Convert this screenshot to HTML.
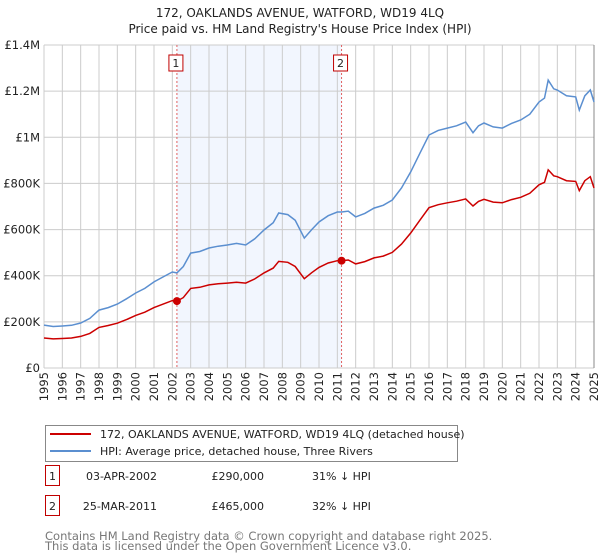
<!DOCTYPE html>
<html><head><meta charset="utf-8"><style>
body{margin:0;background:#fff;font-family:"DejaVu Sans","Liberation Sans",sans-serif;}
#wrap{position:relative;width:600px;height:560px;overflow:hidden}
</style></head><body>
<div id="wrap">
<svg id="chart" width="600" height="560" font-family="DejaVu Sans, Liberation Sans, sans-serif"></svg>
</div>
<script>
const yearTicks=[1995,1996,1997,1998,1999,2000,2001,2002,2003,2004,2005,2006,2007,2008,2009,2010,2011,2012,2013,2014,2015,2016,2017,2018,2019,2020,2021,2022,2023,2024,2025];
const yTickValues=[0,200000,400000,600000,800000,1000000,1200000,1400000];
const yTickLabels=["£0","£200K","£400K","£600K","£800K","£1M","£1.2M","£1.4M"];
const hpiYears=[1995,1995.5,1996,1996.5,1997,1997.5,1998,1998.5,1999,1999.5,2000,2000.5,2001,2001.5,2002,2002.25,2002.6,2003,2003.5,2004,2004.5,2005,2005.5,2006,2006.5,2007,2007.5,2007.8,2008.3,2008.7,2009.2,2009.6,2010,2010.5,2011,2011.23,2011.6,2012,2012.5,2013,2013.5,2014,2014.5,2015,2015.5,2016,2016.5,2017,2017.5,2018,2018.4,2018.7,2019,2019.5,2020,2020.5,2021,2021.5,2022,2022.3,2022.5,2022.8,2023,2023.5,2024,2024.2,2024.5,2024.8,2025];
const hpiValues=[186000,180000,182000,185000,195000,215000,251000,262000,277000,300000,325000,345000,373000,395000,416000,412000,440000,498000,505000,520000,528000,533000,540000,533000,560000,598000,630000,672000,665000,640000,563000,600000,633000,660000,676000,676000,680000,655000,670000,693000,705000,728000,780000,850000,930000,1010000,1030000,1040000,1050000,1066000,1020000,1050000,1062000,1045000,1040000,1060000,1075000,1100000,1153000,1170000,1248000,1210000,1205000,1180000,1175000,1118000,1180000,1205000,1153000];
const priceYears=[1995,1995.5,1996,1996.5,1997,1997.5,1998,1998.5,1999,1999.5,2000,2000.5,2001,2001.5,2002,2002.25,2002.6,2003,2003.5,2004,2004.5,2005,2005.5,2006,2006.5,2007,2007.5,2007.8,2008.3,2008.7,2009.2,2009.6,2010,2010.5,2011,2011.23,2011.6,2012,2012.5,2013,2013.5,2014,2014.5,2015,2015.5,2016,2016.5,2017,2017.5,2018,2018.4,2018.7,2019,2019.5,2020,2020.5,2021,2021.5,2022,2022.3,2022.5,2022.8,2023,2023.5,2024,2024.2,2024.5,2024.8,2025];
const priceValues=[130000,126000,128000,130000,137000,150000,176000,184000,194000,210000,228000,242000,262000,277000,292000,290000,305000,345000,350000,360000,365000,368000,372000,368000,386000,412000,433000,462000,458000,440000,387000,413000,436000,455000,465000,465000,468000,451000,461000,477000,485000,501000,537000,585000,640000,695000,708000,716000,723000,733000,702000,722000,731000,719000,716000,730000,740000,757000,794000,805000,859000,833000,829000,812000,809000,769000,812000,829000,780000];
const saleYears=[2002.25,2011.23];
const saleValues=[290000,465000];
const saleLabels=["1","2"];

const NS="http://www.w3.org/2000/svg";
const svg=document.getElementById('chart');
const L=44,R=594,T=45,B=368;
const x=v=>L+(v-1995)/(2025-1995)*(R-L);
const y=v=>B-v/1400000*(B-T);
function mk(tag,attrs,parent){const e=document.createElementNS(NS,tag);for(const k in attrs)e.setAttribute(k,attrs[k]);(parent||svg).appendChild(e);return e;}

let t=mk('text',{x:300,y:17,'text-anchor':'middle','font-size':12,fill:'#222'});t.textContent="172, OAKLANDS AVENUE, WATFORD, WD19 4LQ";


t=mk('text',{x:300,y:33,'text-anchor':'middle','font-size':12,fill:'#222'});t.textContent="Price paid vs. HM Land Registry's House Price Index (HPI)";



let sh=mk('rect',{x:x(saleYears[0]),y:T,width:x(saleYears[1])-x(saleYears[0]),height:B-T,fill:'#f2f6fe'});



yearTicks.forEach(yr=>{const g=mk('line',{x1:x(yr),x2:x(yr),y1:T,y2:B,stroke:'#cccccc','stroke-width':1});


const lb=mk('text',{transform:`translate(${x(yr)+4},${B+4}) rotate(-90)`,'text-anchor':'end','font-size':11.5,fill:'#222'});lb.textContent=yr;

});
yTickValues.forEach((v,i)=>{const g=mk('line',{x1:L,x2:R,y1:y(v),y2:y(v),stroke:'#cccccc','stroke-width':1});


const lb=mk('text',{x:L-4,y:y(v)+4,'text-anchor':'end','font-size':11.5,fill:'#222'});lb.textContent=yTickLabels[i];

});
let ax=mk('line',{x1:R,x2:R,y1:T,y2:B,stroke:'#888','stroke-width':1});



saleYears.forEach((s,i)=>{const l=mk('line',{x1:x(s),x2:x(s),y1:T,y2:B,stroke:'#e06060','stroke-width':1,'stroke-dasharray':'2,2'});


const bx=mk('rect',{x:x(s)-8,y:55,width:14,height:16,fill:'#fff',stroke:'#c00000','stroke-width':1});


const tx=mk('text',{x:x(s)-1,y:67,'text-anchor':'middle','font-size':11,fill:'#222'});tx.textContent=saleLabels[i];

});

function path(xs,vs){return xs.map((v,i)=>(i?'L':'M')+x(v).toFixed(1)+','+y(vs[i]).toFixed(1)).join(' ');}
let hp=mk('path',{d:path(hpiYears,hpiValues),fill:'none',stroke:'#5b8fd0','stroke-width':1.5});


let pp=mk('path',{d:path(priceYears,priceValues),fill:'none',stroke:'#cc0000','stroke-width':1.5});


saleYears.forEach((s,i)=>{const c=mk('circle',{cx:x(s),cy:y(saleValues[i]),r:4,fill:'#cc0000'});

});

let lg=mk('g',{});


mk('rect',{x:45.5,y:425.5,width:412,height:36,fill:'#fff',stroke:'#888'},lg);
mk('line',{x1:50,x2:91,y1:434,y2:434,stroke:'#cc0000','stroke-width':2},lg);
mk('line',{x1:50,x2:91,y1:451,y2:451,stroke:'#5b8fd0','stroke-width':2},lg);
let le=mk('text',{x:100,y:438,'font-size':11,fill:'#222'},lg);le.textContent="172, OAKLANDS AVENUE, WATFORD, WD19 4LQ (detached house)";


le=mk('text',{x:100,y:455,'font-size':11,fill:'#222'},lg);le.textContent="HPI: Average price, detached house, Three Rivers";



const rows=[["1","03-APR-2002","£290,000","31% ↓ HPI",477],["2","25-MAR-2011","£465,000","32% ↓ HPI",507]];
rows.forEach(r=>{const g=mk('g',{});


mk('rect',{x:45.5,y:r[4]-11.5,width:14,height:20,fill:'#fff',stroke:'#c00000'},g);
let a=mk('text',{x:52.5,y:r[4]+3,'text-anchor':'middle','font-size':11,fill:'#222'},g);a.textContent=r[0];
a=mk('text',{x:157,y:r[4]+3,'text-anchor':'end','font-size':11,fill:'#222'},g);a.textContent=r[1];
a=mk('text',{x:264,y:r[4]+3,'text-anchor':'end','font-size':11,fill:'#222'},g);a.textContent=r[2];
a=mk('text',{x:312,y:r[4]+3,'font-size':11,fill:'#222'},g);a.textContent=r[3];});

let f=mk('text',{x:45,y:540,'font-size':11.5,fill:'#777'});f.textContent="Contains HM Land Registry data © Crown copyright and database right 2025.";


f=mk('text',{x:45,y:550,'font-size':11.5,fill:'#777'});f.textContent="This data is licensed under the Open Government Licence v3.0.";


</script>
</body></html>
